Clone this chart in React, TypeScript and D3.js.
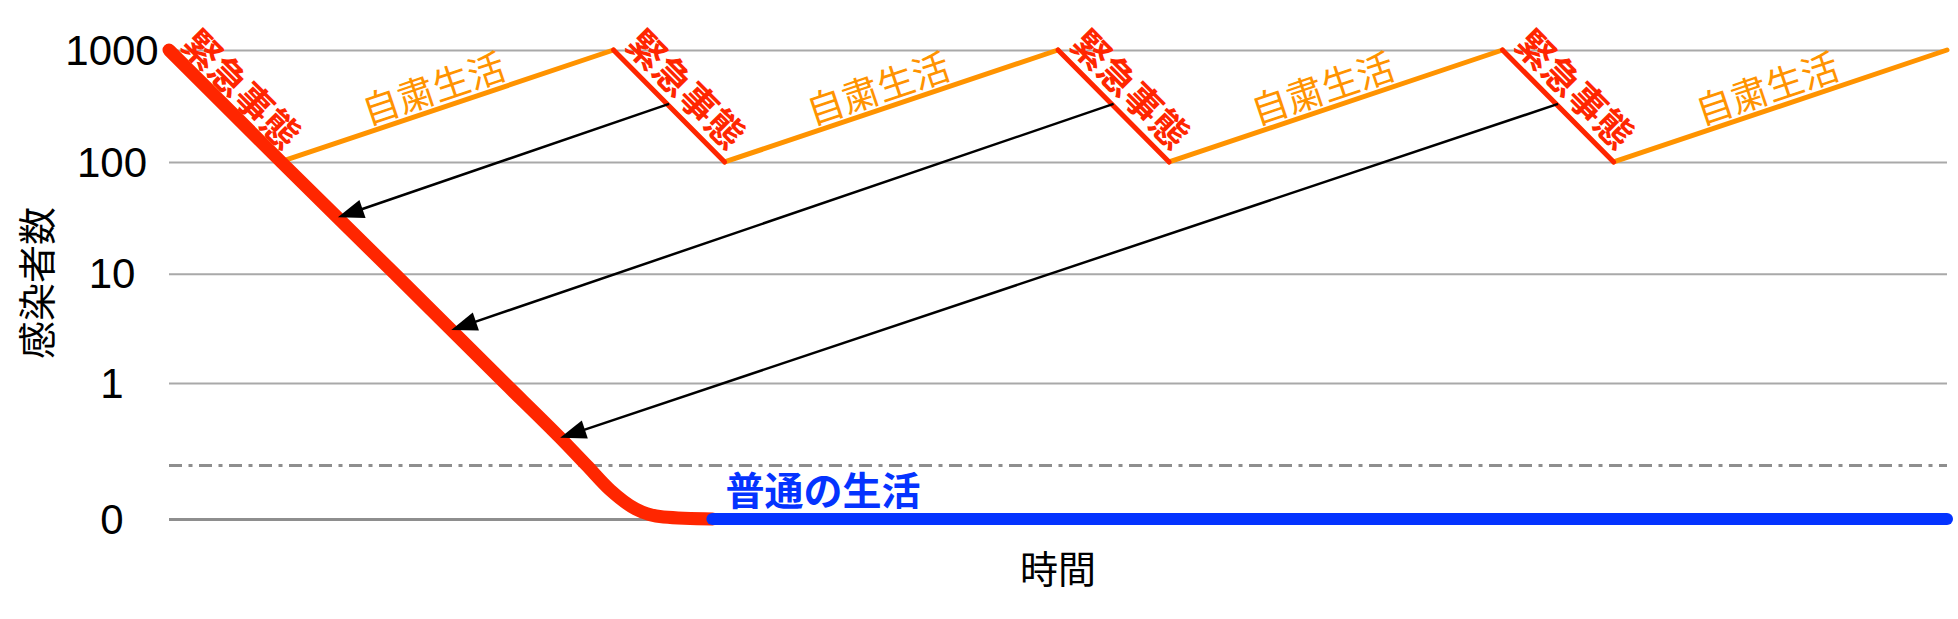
import React, { useRef, useEffect } from 'react';
import * as d3 from 'd3';

const WIDTH = 1958;
const HEIGHT = 619;

// y axis: infected count, symlog so that 0 sits below the decades
const yTicks = [0, 1, 10, 100, 1000];
const thresholdLevel = 0.13;

// first state of emergency: the long fall from 1000 to nothing
const fallTimes = [0, 10.1, 20.3, 30.2, 35.2, 37.6, 39.7, 42, 44.5, 48.9];
const fallValues = [1000, 100, 10, 1, 0.28, 0.13, 0.053, 0.0148, 0.0027, 0];

// normal life afterwards
const normalTimes = [48.9, 160];
const normalValues = [0, 0];

// repeating cycle: emergency (1000 -> 100), then self-restraint (100 -> 1000)
const emergencyStart = [0, 40, 80, 120];
const emergencyEnd = [10, 50, 90, 130];
const restraintStart = [10, 50, 90, 130];
const restraintEnd = [40, 80, 120, 160];
const peakLevel = 1000;
const lowLevel = 100;

// arrows from each later emergency back onto the first fall
const arrowFromTimes = [45, 85, 125];
const arrowFromValues = [330, 330, 330];
const arrowToTimes = [15.2, 25.4, 35.2];
const arrowToValues = [32, 3.1, 0.28];

const RED = "#ff2600";
const ORANGE = "#ff9300";
const BLUE = "#0433ff";
const JP_FONT = "'Noto Sans CJK JP', 'Noto Sans', sans-serif";
const NUM_FONT = "'Liberation Sans', Arial, sans-serif";

function InfectionChart() {
  const svgRef = useRef(null);

  useEffect(() => {
    const svg = d3.select(svgRef.current);
    svg.selectAll("*").remove();

    const margin = { top: 50, right: 11, bottom: 100, left: 169 };

    const x = d3.scaleLinear()
      .domain([0, 160])
      .range([margin.left, WIDTH - margin.right]);

    const y = d3.scaleSymlog()
      .constant(0.065)
      .domain([0, 1000])
      .range([HEIGHT - margin.bottom, margin.top]);

    // gridlines + tick labels
    const axis = svg.append("g")
      .attr("transform", `translate(${margin.left},0)`)
      .call(d3.axisLeft(y)
        .tickValues(yTicks)
        .tickFormat(d3.format("d"))
        .tickSize(-(WIDTH - margin.right - margin.left)));
    axis.select(".domain").remove();
    axis.selectAll(".tick line")
      .attr("stroke", d => (d === 0 ? "#8e8e8e" : "#a9a9a9"))
      .attr("stroke-width", d => (d === 0 ? 3 : 2));
    axis.selectAll(".tick text")
      .attr("x", 112 - margin.left)
      .attr("dy", "0.34em")
      .attr("text-anchor", "middle")
      .attr("fill", "#000")
      .style("font-family", NUM_FONT)
      .style("font-size", "42px");

    // dash-dot threshold line
    svg.append("line")
      .attr("x1", x(0))
      .attr("x2", x(160))
      .attr("y1", y(thresholdLevel))
      .attr("y2", y(thresholdLevel))
      .attr("stroke", "#8e8e8e")
      .attr("stroke-width", 3)
      .attr("stroke-dasharray", "13,6.5,4,6.5");

    // self-restraint segments
    restraintStart.forEach((s, i) => {
      svg.append("line")
        .attr("x1", x(s)).attr("y1", y(lowLevel))
        .attr("x2", x(restraintEnd[i])).attr("y2", y(peakLevel))
        .attr("stroke", ORANGE)
        .attr("stroke-width", 5)
        .attr("stroke-linecap", "round");
    });

    // later emergency segments (the first one is part of the fall curve)
    emergencyStart.slice(1).forEach((s, i) => {
      svg.append("line")
        .attr("x1", x(s)).attr("y1", y(peakLevel))
        .attr("x2", x(emergencyEnd[i + 1])).attr("y2", y(lowLevel))
        .attr("stroke", RED)
        .attr("stroke-width", 5)
        .attr("stroke-linecap", "round");
    });

    // the big fall
    const line = d3.line()
      .x(d => x(d[0]))
      .y(d => y(d[1]))
      .curve(d3.curveMonotoneX);

    svg.append("path")
      .datum(fallTimes.map((t, i) => [t, fallValues[i]]))
      .attr("fill", "none")
      .attr("stroke", RED)
      .attr("stroke-width", 13)
      .attr("stroke-linecap", "round")
      .attr("stroke-linejoin", "round")
      .attr("d", line);

    // normal life
    svg.append("path")
      .datum(normalTimes.map((t, i) => [t, normalValues[i]]))
      .attr("fill", "none")
      .attr("stroke", BLUE)
      .attr("stroke-width", 12)
      .attr("stroke-linecap", "round")
      .attr("d", line);

    // arrows
    arrowFromTimes.forEach((t, i) => {
      const x1 = x(t), y1 = y(arrowFromValues[i]);
      const x2 = x(arrowToTimes[i]), y2 = y(arrowToValues[i]);
      const len = Math.hypot(x2 - x1, y2 - y1);
      const ux = (x2 - x1) / len, uy = (y2 - y1) / len;
      const headLen = 26, headHalf = 9.5;
      const bx = x2 - ux * headLen, by = y2 - uy * headLen;
      svg.append("line")
        .attr("x1", x1).attr("y1", y1)
        .attr("x2", bx + ux * 4).attr("y2", by + uy * 4)
        .attr("stroke", "#000")
        .attr("stroke-width", 2.5);
      svg.append("path")
        .attr("d", `M${x2},${y2}L${bx - uy * headHalf},${by + ux * headHalf}L${bx + uy * headHalf},${by - ux * headHalf}Z`)
        .attr("fill", "#000");
    });

    // 緊急事態 labels along each emergency drop
    emergencyStart.forEach((s, i) => {
      const x0 = x(s), y0 = y(peakLevel);
      const x1 = x(emergencyEnd[i]), y1 = y(lowLevel);
      const len = Math.hypot(x1 - x0, y1 - y0);
      const dx = (x1 - x0) / len, dy = (y1 - y0) / len;
      const cx = (x0 + x1) / 2 + dy * 26;
      const cy = (y0 + y1) / 2 - dx * 26;
      const angle = Math.atan2(dy, dx) * 180 / Math.PI;
      svg.append("text")
        .attr("transform", `translate(${cx},${cy}) rotate(${angle})`)
        .attr("text-anchor", "middle")
        .attr("dominant-baseline", "central")
        .attr("fill", RED)
        .style("font-family", JP_FONT)
        .style("font-weight", "bold")
        .style("font-size", "37px")
        .text("緊急事態");
    });

    // 自粛生活 labels along each rise
    restraintStart.forEach((s, i) => {
      const x0 = x(s), y0 = y(lowLevel);
      const x1 = x(restraintEnd[i]), y1 = y(peakLevel);
      const len = Math.hypot(x1 - x0, y1 - y0);
      const dx = (x1 - x0) / len, dy = (y1 - y0) / len;
      const cx = (x0 + x1) / 2 + dy * 23 - dx * 7;
      const cy = (y0 + y1) / 2 - dx * 23 - dy * 7;
      const angle = Math.atan2(dy, dx) * 180 / Math.PI;
      svg.append("text")
        .attr("transform", `translate(${cx},${cy}) rotate(${angle})`)
        .attr("text-anchor", "middle")
        .attr("dominant-baseline", "central")
        .attr("fill", ORANGE)
        .style("font-family", JP_FONT)
        .style("font-size", "37px")
        .text("自粛生活");
    });

    // 普通の生活
    svg.append("text")
      .attr("x", x(normalTimes[0]) + 13)
      .attr("y", y(0) - 14)
      .attr("fill", BLUE)
      .style("font-family", JP_FONT)
      .style("font-weight", "bold")
      .style("font-size", "39px")
      .text("普通の生活");

    // axis titles
    svg.append("text")
      .attr("transform", `translate(34,${283}) rotate(-90)`)
      .attr("text-anchor", "middle")
      .attr("dominant-baseline", "central")
      .style("font-family", JP_FONT)
      .style("font-size", "38px")
      .text("感染者数");

    svg.append("text")
      .attr("x", (x(0) + x(160)) / 2)
      .attr("y", 566)
      .attr("text-anchor", "middle")
      .attr("dominant-baseline", "central")
      .style("font-family", JP_FONT)
      .style("font-size", "38px")
      .text("時間");
  }, []);

  return (
    <svg
      ref={svgRef}
      width={WIDTH}
      height={HEIGHT}
      style={{ position: "absolute", left: 0, top: 0, background: "#fff" }}
    ></svg>
  );
}

export default function App() {
  return <InfectionChart />;
}
